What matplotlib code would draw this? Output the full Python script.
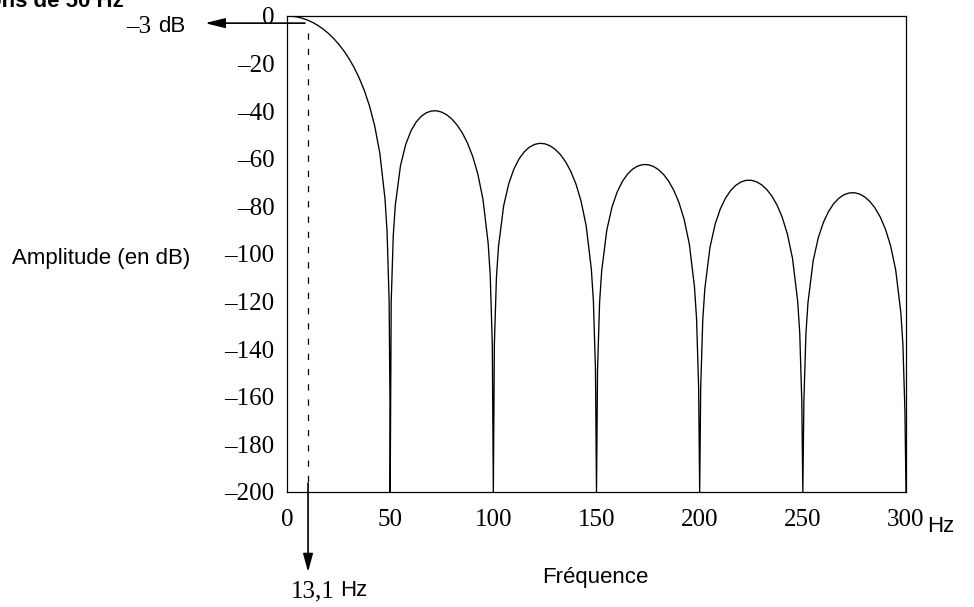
import matplotlib
matplotlib.use("Agg")
import matplotlib.pyplot as plt

# ---- data (amplitude in dB vs frequency in Hz) ----
freq_lobe0 = [0, 2.5, 5, 7.5, 10, 12.5, 15, 17.5, 20, 22.5, 25, 27.5, 30, 32.5, 35,
              37.5, 40, 42.5, 45, 47.5, 48.5, 49.5, 49.9, 50]
amp_lobe0 = [0, -0.11, -0.43, -0.97, -1.74, -2.74, -3.98, -5.48, -7.26, -9.34, -11.77,
             -14.57, -17.83, -21.61, -26.06, -31.36, -37.86, -46.17, -57.68, -76.83,
             -90.62, -119.74, -161.88, -200]

freq_lobe1 = [50.5, 51.5, 52.5, 55, 57.5, 60, 62.5, 65, 67.5, 70, 72.5, 75, 77.5, 80,
              82.5, 85, 87.5, 90, 92.5, 95, 97.5, 98.5, 99.5, 100]
amp_lobe1 = [-120.26, -92.18, -79.44, -62.91, -54.05, -48.43, -44.67, -42.19, -40.66,
             -39.90, -39.83, -40.39, -41.57, -43.38, -45.89, -49.18, -53.44, -58.99,
             -66.44, -77.16, -95.57, -109.08, -137.93, -200]

freq_lobe2 = [100.5, 101.5, 102.5, 105, 107.5, 110, 112.5, 115, 117.5, 120, 122.5, 125,
              127.5, 130, 132.5, 135, 137.5, 140, 142.5, 145, 147.5, 148.5, 149.5, 150]
amp_lobe2 = [-138.20, -109.86, -96.87, -79.76, -70.35, -64.22, -59.99, -57.06, -55.10,
             -53.95, -53.50, -53.71, -54.54, -56.04, -58.23, -61.23, -65.22, -70.51,
             -77.70, -88.17, -106.36, -119.78, -148.54, -200]

freq_lobe3 = [150.5, 151.5, 152.5, 155, 157.5, 160, 162.5, 165, 167.5, 170, 172.5, 175,
              177.5, 180, 182.5, 185, 187.5, 190, 192.5, 195, 197.5, 198.5, 199.5, 200]
amp_lobe3 = [-148.72, -120.30, -107.23, -89.91, -80.30, -73.98, -69.57, -66.46, -64.34,
             -63.03, -62.42, -62.47, -63.17, -64.52, -66.57, -69.44, -73.30, -78.46,
             -85.53, -95.89, -113.97, -127.34, -156.06, -200]

freq_lobe4 = [200.5, 201.5, 202.5, 205, 207.5, 210, 212.5, 215, 217.5, 220, 222.5, 225,
              227.5, 230, 232.5, 235, 237.5, 240, 242.5, 245, 247.5, 248.5, 249.5, 250]
amp_lobe4 = [-156.19, -127.73, -114.62, -97.20, -87.49, -81.07, -76.56, -73.36, -71.15,
             -69.74, -69.05, -69.02, -69.63, -70.90, -72.88, -75.68, -79.46, -84.55,
             -91.55, -101.84, -119.85, -133.19, -161.89, -200]

freq_lobe5 = [250.5, 251.5, 252.5, 255, 257.5, 260, 262.5, 265, 267.5, 270, 272.5, 275,
              277.5, 280, 282.5, 285, 287.5, 290, 292.5, 295, 297.5, 298.5, 299.5, 300]
amp_lobe5 = [-161.99, -133.51, -120.37, -102.88, -93.11, -86.64, -82.07, -78.81, -76.54,
             -75.08, -74.34, -74.25, -74.81, -76.03, -77.96, -80.70, -84.44, -89.48,
             -96.44, -106.68, -124.64, -137.97, -166.65, -200]

x_ticks = [0, 50, 100, 150, 200, 250, 300]
x_tick_labels = ["0", "50", "100", "150", "200", "250", "300"]
y_ticks = [0, -20, -40, -60, -80, -100, -120, -140, -160, -180, -200]
y_tick_labels = ["0", "\u201320", "\u201340", "\u201360", "\u201380", "\u2013100",
                 "\u2013120", "\u2013140", "\u2013160", "\u2013180", "\u2013200"]

cutoff_db = -3
cutoff_hz_label = "13,1"
cutoff_marker_hz = 10.2   # where the dashed line sits in the picture

# ---- figure ----
W, H = 974, 607
fig = plt.figure(figsize=(W / 100, H / 100), dpi=100)
ax = fig.add_axes([287 / W, 1 - 492 / H, (906 - 287) / W, (492 - 16) / H])

serif = "Liberation Serif"
sans = "Liberation Sans"

freq = freq_lobe0 + freq_lobe1 + freq_lobe2 + freq_lobe3 + freq_lobe4 + freq_lobe5
amp = amp_lobe0 + amp_lobe1 + amp_lobe2 + amp_lobe3 + amp_lobe4 + amp_lobe5
ax.plot(freq, amp, color="black", lw=0.95, solid_joinstyle="round")

ax.set_xlim(0, 300)
ax.set_ylim(-200, 0)
ax.set_xticks(x_ticks)
ax.set_xticklabels(x_tick_labels, fontfamily=serif, fontsize=18)
ax.set_yticks(y_ticks)
ax.set_yticklabels(y_tick_labels, fontfamily=serif, fontsize=18)
ax.tick_params(axis="both", length=0)
ax.tick_params(axis="y", pad=9)
ax.tick_params(axis="x", pad=12)
for s in ax.spines.values():
    s.set_linewidth(0.9)

# dashed vertical line at the -3 dB frequency
ax.plot([cutoff_marker_hz, cutoff_marker_hz], [-7.1, -196.2], color="black",
        lw=0.9, dashes=(5, 7.2), clip_on=False)

# horizontal arrow (-3 dB)
ax.annotate("", xy=(-39.7, cutoff_db), xytext=(8.7, cutoff_db), xycoords="data",
            annotation_clip=False,
            arrowprops=dict(arrowstyle="-|>,head_length=1.2,head_width=0.3",
                            mutation_scale=10, color="black", lw=1.2,
                            shrinkA=0, shrinkB=0))
# vertical arrow down to the 13,1 Hz label
ax.annotate("", xy=(cutoff_marker_hz, -233.6), xytext=(cutoff_marker_hz, -196.2),
            xycoords="data", annotation_clip=False,
            arrowprops=dict(arrowstyle="-|>,head_length=1.1,head_width=0.3",
                            mutation_scale=10, color="black", lw=1.2,
                            shrinkA=0, shrinkB=0))

def fx(px):
    return px / W

def fy(py):
    return 1 - py / H

# -3 dB label
fig.text(fx(151), fy(27), "\u20133", fontfamily=serif, fontsize=18, ha="right", va="center")
fig.text(fx(158), fy(27), "dB", fontfamily=sans, fontsize=16, ha="left", va="center")

# 13,1 Hz label
fig.text(fx(335), fy(591), cutoff_hz_label, fontfamily=serif, fontsize=18, ha="right", va="center")
fig.text(fx(340), fy(591), "Hz", fontfamily=sans, fontsize=16, ha="left", va="center")

# axis labels
fig.text(fx(12), fy(258), "Amplitude (en dB)", fontfamily=sans, fontsize=16, ha="left", va="center")
fig.text(fx(595), fy(577), "Fréquence", fontfamily=sans, fontsize=16, ha="center", va="center")
fig.text(fx(927), fy(527), "Hz", fontfamily=sans, fontsize=16, ha="left", va="center")

# clipped title at the top-left
fig.text(fx(124), fy(7), "Réjection des perturbations de 50 Hz", fontfamily=sans,
         fontsize=16, fontweight="bold", ha="right", va="baseline")

fig.savefig("out.png", dpi=100)
